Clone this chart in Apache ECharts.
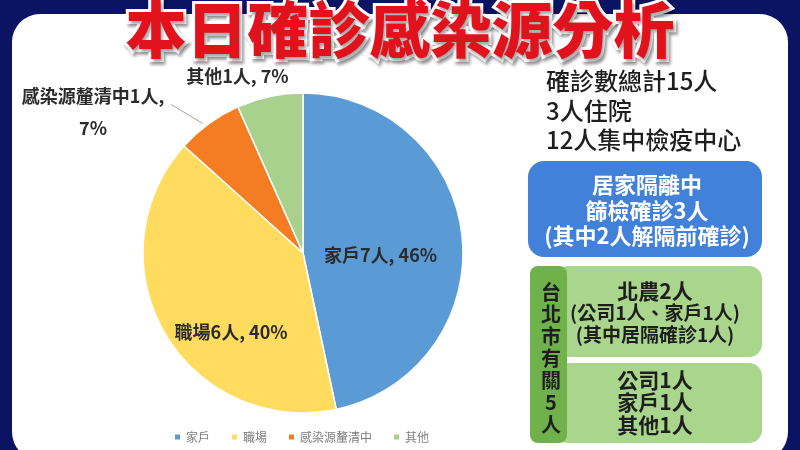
<!DOCTYPE html>
<html><head><meta charset="utf-8">
<script src="https://cdn.jsdelivr.net/npm/echarts@6/dist/echarts.min.js"></script>
<style>html,body{margin:0;padding:0;background:#0b1462}#c{width:800px;height:450px}</style>
</head><body><div id="c"></div>
<script>
// ---- data ----
const titleText = '本日確診感染源分析';
const categories = ['家戶', '職場', '感染源釐清中', '其他'];
const values = [7, 6, 1, 1];
const pctLabels = [46, 40, 7, 7];
const summaryLines = ['確診數總計15人', '3人住院', '12人集中檢疫中心'];
const blueBoxLines = ['居家隔離中', '篩檢確診3人', '(其中2人解隔前確診)'];
const greenSideLabel = ['台', '北', '市', '有', '關', '5', '人'];
const greenTopLines = ['北農2人', '(公司1人、家戶1人)', '(其中居隔確診1人)'];
const greenBottomLines = ['公司1人', '家戶1人', '其他1人'];

// ---- styles ----
const colors = ['#5b9bd5', '#ffdc5e', '#f47d23', '#a9d18e'];
const FONT = '"Noto Sans CJK TC", "Noto Sans CJK SC", sans-serif';
const labelPos = ['inside', 'inside', 'outside', 'outside'];
const labelShift = [[-5, 11], [0, 38], [-30, -3], [26, -11]];

const pieData = categories.map((name, i) => ({
  name, value: values[i],
  label: {
    position: labelPos[i],
    formatter: i === 2
      ? '{a|' + name + values[i] + '人,}\n{a|' + pctLabels[i] + '%}'
      : name + values[i] + '人, ' + pctLabels[i] + '%'
  },
  labelLine: { show: i === 2, length: 10, length2: 0, lineStyle: { color: '#a6a6a6', width: 1 } }
}));

function txt(x, y, text, size, color, align, weight) {
  return { type: 'text', x, y, z: 20, style: { text, fill: color, font: (weight || 'normal') + ' ' + size + 'px ' + FONT, textAlign: align || 'center', textVerticalAlign: 'middle' } };
}
const graphics = [
  { type: 'rect', shape: { x: 12, y: 14, width: 776, height: 446, r: 28 }, style: { fill: '#ffffff' }, z: 0 },
  { type: 'rect', shape: { x: 528, y: 161, width: 234, height: 96, r: 16 }, style: { fill: '#4281d9' }, z: 5 },
  { type: 'rect', shape: { x: 555, y: 266, width: 207, height: 91, r: 13 }, style: { fill: '#a9d68c' }, z: 5 },
  { type: 'rect', shape: { x: 555, y: 363, width: 207, height: 80, r: 13 }, style: { fill: '#a9d68c' }, z: 5 },
  { type: 'rect', shape: { x: 530, y: 266, width: 37, height: 177, r: 8 }, style: { fill: '#6fb24b' }, z: 6 }
];
summaryLines.forEach((t, i) => graphics.push(txt(546, 81 + i * 29.5, t, 24, '#1e1e1e', 'left', 500)));
blueBoxLines.forEach((t, i) => graphics.push(txt(647, 185 + i * 25.5, t, 22, '#ffffff', 'center', 'bold')));
graphics.push({ type: 'text', x: 551, y: 358, z: 20, style: { text: greenSideLabel.join('\n'), fill: '#1e1e1e', font: 'bold 20px ' + FONT, lineHeight: 22, textAlign: 'center', textVerticalAlign: 'middle' } });
greenTopLines.forEach((t, i) => graphics.push(txt(655, 291 + i * 22, t, i === 0 ? 21 : 19, '#1e1e1e', 'center', 'bold')));
greenBottomLines.forEach((t, i) => graphics.push(txt(655, 380 + i * 22.5, t, 21, '#1e1e1e', 'center', 'bold')));

const chart = echarts.init(document.getElementById('c'));
chart.setOption({
  backgroundColor: '#0b1462',
  color: colors,
  graphic: graphics,
  title: {
    text: titleText, left: 'center', top: -6, z: 30,
    textStyle: { fontFamily: FONT, fontSize: 61, fontWeight: 900, color: '#e1121c',
      textBorderColor: '#ffffff', textBorderWidth: 6,
      textShadowColor: 'rgba(0,0,0,0.35)', textShadowOffsetX: 2, textShadowOffsetY: 3, textShadowBlur: 3 }
  },
  legend: {
    bottom: 2, left: 168, itemWidth: 7, itemHeight: 7, itemGap: 20, icon: 'rect',
    textStyle: { fontFamily: FONT, fontSize: 12, color: '#7f7f7f' },
    data: categories
  },
  series: [{
    type: 'pie', center: [303, 253], radius: 160, startAngle: 90, clockwise: true,
    avoidLabelOverlap: false,
    itemStyle: { borderColor: '#ffffff', borderWidth: 1.5 },
    label: { fontFamily: FONT, fontSize: 18, fontWeight: 'bold', color: '#2b2b2b',
      rich: { a: { width: 150, align: 'center', fontFamily: FONT, fontSize: 18, fontWeight: 'bold', color: '#2b2b2b', lineHeight: 32 } } },
    labelLayout: p => {
      const s = labelShift[p.dataIndex];
      const out = { dx: s[0], dy: s[1] };
      const pts = p.labelLinePoints;
      if (pts && pts.length) {
        const last = pts[pts.length - 1];
        const end = [last[0] + s[0] - 2, last[1] + s[1] - 8];
        const start = [pts[0][0] - 6, pts[0][1]];
        out.labelLinePoints = [start, [(start[0] + end[0]) / 2, (start[1] + end[1]) / 2], end];
      }
      return out;
    },
    data: pieData
  }]
});
</script></body></html>
